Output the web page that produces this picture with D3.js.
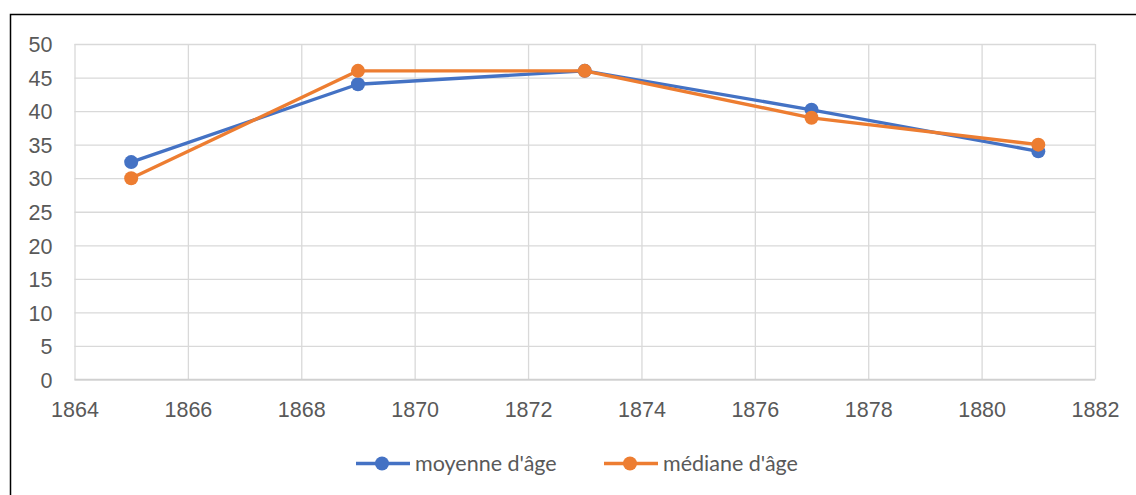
<!DOCTYPE html>
<html>
<head>
<meta charset="utf-8">
<script src="https://cdn.jsdelivr.net/npm/d3@7"></script>
<style>
  body { margin:0; background:#fff; }
  svg { display:block; font-family: Lato, "Open Sans", sans-serif; }
</style>
</head>
<body>
<div id="chart"></div>
<script>
// data
const years   = [1865, 1869, 1873, 1877, 1881]
const moyenne = [32.4, 44, 46, 40.2, 34]
const mediane = [30, 46, 46, 39, 35]
const seriesNames = ["moyenne d'âge", "médiane d'âge"]
const xTicks = [1864,1866,1868,1870,1872,1874,1876,1878,1880,1882]
const yTicks = [0,5,10,15,20,25,30,35,40,45,50]

function render(){
  let width = 1136, height = 495,
      margin = { top:44, left:74.5, right:41, bottom:115.5 },
      innerWidth = width - margin.left - margin.right,
      innerHeight = height - margin.top - margin.bottom
  let colors = ["#4472C4", "#ED7D31"]
  let fontSize = 21.5

  let svg = d3.select("#chart").append("svg")
    .attr("width", width).attr("height", height)

  // outer frame
  svg.append("rect").attr("x",10.5).attr("y",14.5)
    .attr("width",width).attr("height",height)
    .attr("fill","none").attr("stroke","#000").attr("stroke-width",1.5)

  let g = svg.append("g").attr("transform",`translate(${margin.left},${margin.top})`)

  let xScale = d3.scaleLinear().domain([1864,1882]).range([0,innerWidth])
  let yScale = d3.scaleLinear().domain([0,50]).range([innerHeight,0])

  let xAxis = d3.axisBottom(xScale).tickValues(xTicks).tickFormat(d3.format("d"))
    .tickSize(-innerHeight)
  let yAxis = d3.axisLeft(yScale).tickValues(yTicks)
    .tickSize(-innerWidth)

  let yGroup = g.append("g").call(yAxis)
  let xGroup = g.append("g").call(xAxis).attr("transform",`translate(0,${innerHeight})`)
  for (let grp of [xGroup, yGroup]) {
    grp.select(".domain").remove()
    grp.selectAll("line").attr("stroke","#d9d9d9").attr("stroke-width",1.3)
    grp.selectAll("text").attr("fill","#595959").attr("font-size",fontSize)
  }
  xGroup.selectAll("text").attr("dy","0.71em").attr("y",22)
  yGroup.selectAll("text").attr("dy","0.36em").attr("x",-22)
  // base line
  g.append("line").attr("x1",0).attr("x2",innerWidth)
    .attr("y1",innerHeight).attr("y2",innerHeight)
    .attr("stroke","#d0d0d0").attr("stroke-width",1.5)

  let line = d3.line().x((d,i)=>xScale(years[i])).y(d=>yScale(d))
  ;[moyenne, mediane].forEach(function(vals, k){
    g.append("path").attr("d", line(vals))
      .attr("fill","none").attr("stroke",colors[k])
      .attr("stroke-width",3.3).attr("stroke-linejoin","round")
    g.selectAll(null).data(vals).enter().append("circle")
      .attr("cx",(d,i)=>xScale(years[i])).attr("cy",d=>yScale(d))
      .attr("r",7).attr("fill",colors[k])
  })

  // legend
  let legX = [356, 604]
  seriesNames.forEach(function(name,k){
    let lg = svg.append("g").attr("transform",`translate(${legX[k]},463.5)`)
    lg.append("line").attr("x1",0).attr("x2",54).attr("stroke",colors[k]).attr("stroke-width",3.3)
    lg.append("circle").attr("cx",26).attr("r",7).attr("fill",colors[k])
    lg.append("text").attr("x",59).attr("y",7.5).text(name)
      .attr("font-size",fontSize).attr("fill","#595959")
  })
}
render()
</script>
</body>
</html>
